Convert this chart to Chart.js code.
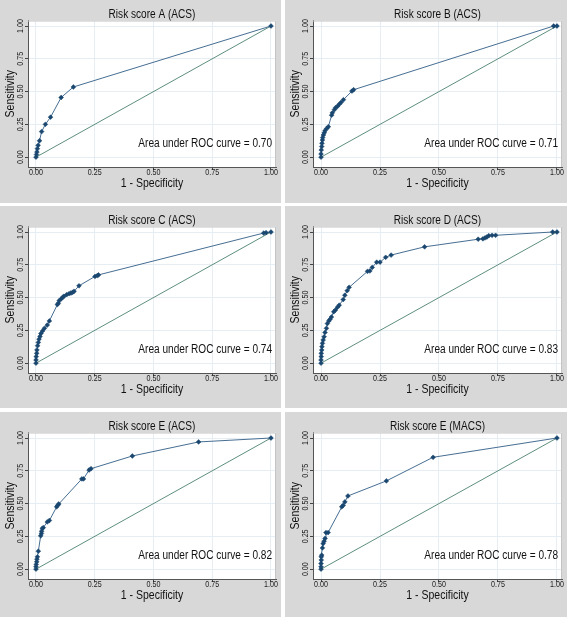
<!DOCTYPE html>
<html>
<head>
<meta charset="utf-8">
<script src="https://cdn.jsdelivr.net/npm/chart.js@4/dist/chart.umd.min.js"></script>
<style>
  html, body { margin: 0; padding: 0; background: #ffffff; }
  #wrap { position: relative; width: 567px; height: 620px; overflow: hidden; }
  .panel { position: absolute; background: #d8d8d8; }
  canvas { display: block; }
</style>
</head>
<body>
<div id="wrap"></div>
<script>
// ---------------- data ----------------
const TICK_VALUES = [0, 0.25, 0.5, 0.75, 1];
const TITLES = ["Risk score A (ACS)", "Risk score B (ACS)", "Risk score C (ACS)",
                "Risk score D (ACS)", "Risk score E (ACS)", "Risk score E (MACS)"];
const AUC = [0.70, 0.71, 0.74, 0.83, 0.82, 0.78];
const X_TITLE = "1 - Specificity";
const Y_TITLE = "Sensitivity";
const AUC_LABEL = "Area under ROC curve = ";

const A_FPR = [0,0.002,0.004,0.006,0.009,0.015,0.024,0.04,0.062,0.107,0.159,1];
const A_TPR = [0,0.02,0.04,0.065,0.09,0.125,0.195,0.25,0.305,0.455,0.535,1];

const B_FPR = [0,0,0.001,0.003,0.004,0.006,0.007,0.01,0.014,0.017,0.024,0.031,0.045,0.048,0.057,0.062,0.07,0.077,0.085,0.095,0.131,0.138,0.986,1];
const B_TPR = [0,0.025,0.055,0.081,0.106,0.131,0.149,0.169,0.186,0.202,0.219,0.232,0.32,0.338,0.363,0.378,0.388,0.403,0.418,0.438,0.504,0.514,1,1];

const C_FPR = [0,0,0.001,0.003,0.004,0.007,0.01,0.013,0.017,0.021,0.028,0.036,0.048,0.057,0.091,0.095,0.099,0.107,0.114,0.119,0.131,0.141,0.149,0.156,0.162,0.183,0.251,0.261,0.266,0.969,0.979,1];
const C_TPR = [0,0.025,0.05,0.075,0.1,0.133,0.158,0.183,0.204,0.226,0.246,0.266,0.291,0.322,0.447,0.457,0.477,0.49,0.503,0.51,0.523,0.53,0.535,0.54,0.548,0.59,0.661,0.668,0.673,0.992,0.995,1];

const D_FPR = [0,0,0.001,0.001,0.003,0.004,0.006,0.009,0.013,0.017,0.023,0.027,0.033,0.038,0.044,0.054,0.061,0.07,0.077,0.094,0.101,0.111,0.119,0.197,0.207,0.217,0.236,0.25,0.274,0.297,0.439,0.666,0.686,0.695,0.703,0.711,0.725,0.74,0.982,1];
const D_TPR = [0,0.025,0.05,0.075,0.1,0.126,0.151,0.176,0.201,0.234,0.266,0.302,0.322,0.334,0.352,0.392,0.405,0.427,0.442,0.485,0.518,0.553,0.578,0.7,0.703,0.73,0.77,0.77,0.807,0.824,0.887,0.945,0.948,0.955,0.962,0.972,0.975,0.975,1,1];

const E_FPR = [0,0,0.001,0.003,0.004,0.006,0.01,0.02,0.023,0.024,0.027,0.031,0.048,0.057,0.088,0.092,0.097,0.195,0.202,0.226,0.234,0.41,0.692,1];
const E_TPR = [0,0.018,0.036,0.056,0.076,0.094,0.137,0.254,0.272,0.289,0.31,0.317,0.36,0.371,0.475,0.487,0.497,0.688,0.688,0.756,0.766,0.863,0.97,1];

const EM_FPR = [0,0,0,0.001,0.001,0.003,0.006,0.009,0.013,0.017,0.021,0.03,0.088,0.094,0.101,0.114,0.277,0.475,1];
const EM_TPR = [0,0.018,0.043,0.069,0.094,0.107,0.162,0.195,0.213,0.234,0.279,0.279,0.475,0.487,0.513,0.558,0.673,0.853,1];

const DIAG_X = [0, 1];
const DIAG_Y = [0, 1];

const SERIES = [[A_FPR, A_TPR], [B_FPR, B_TPR], [C_FPR, C_TPR],
                [D_FPR, D_TPR], [E_FPR, E_TPR], [EM_FPR, EM_TPR]];

// ---------------- layout ----------------
const PANELS = [
  {left: 0,   top: 0,   w: 281, h: 203},
  {left: 285, top: 0,   w: 282, h: 203},
  {left: 0,   top: 206, w: 281, h: 202},
  {left: 285, top: 206, w: 282, h: 202},
  {left: 0,   top: 412, w: 281, h: 205},
  {left: 285, top: 412, w: 282, h: 205}
];

const FONT = "'Liberation Sans', Arial, sans-serif";
const NARROW = 0.84;  // horizontal squeeze to mimic a narrow typeface
const NAVY = '#1a476f';
const LINE = '#466e93';
const DIAG = '#5e8f7e';

const narrowText = {
  id: 'narrowText',
  beforeInit(chart) {
    const ctx = chart.ctx;
    const orig = ctx.fillText;
    ctx.fillText = function (t, x, y, mw) {
      this.save();
      this.translate(x, y);
      this.scale(NARROW, 1);
      if (mw !== undefined) orig.call(this, t, 0, 0, mw / NARROW);
      else orig.call(this, t, 0, 0);
      this.restore();
    };
  }
};

const boxPlugin = {
  id: 'boxAndText',
  beforeDraw(chart) {
    const {ctx, chartArea: a} = chart;
    ctx.save();
    ctx.fillStyle = '#ffffff';
    ctx.fillRect(a.left, a.top, a.right - a.left, a.bottom - a.top);
    ctx.restore();
  },
  beforeDatasetsDraw(chart) {
    const {ctx, chartArea: a} = chart;
    ctx.save();
    ctx.strokeStyle = '#c4c4c4';
    ctx.lineWidth = 1;
    ctx.beginPath();
    ctx.moveTo(a.left, a.top + 0.5);
    ctx.lineTo(a.right - 0.5, a.top + 0.5);
    ctx.lineTo(a.right - 0.5, a.bottom);
    ctx.stroke();
    ctx.restore();
  },
  afterDatasetsDraw(chart) {
    const {ctx, chartArea: a} = chart;
    const auc = chart.options.plugins.boxAndText.auc;
    ctx.save();
    ctx.fillStyle = '#111';
    ctx.font = '12px ' + FONT;
    ctx.textAlign = 'right';
    ctx.textBaseline = 'middle';
    ctx.fillText(AUC_LABEL + auc.toFixed(2), a.right - 4, a.bottom - 23);
    ctx.restore();
  }
};

const wrap = document.getElementById('wrap');
PANELS.forEach((p, i) => {
  const div = document.createElement('div');
  div.className = 'panel';
  div.style.left = p.left + 'px';
  div.style.top = p.top + 'px';
  div.style.width = p.w + 'px';
  div.style.height = p.h + 'px';
  const cv = document.createElement('canvas');
  cv.width = p.w; cv.height = p.h;
  cv.style.width = p.w + 'px'; cv.style.height = p.h + 'px';
  div.appendChild(cv);
  wrap.appendChild(div);

  const [fx, ty] = SERIES[i];
  const rocPts = fx.map((v, k) => ({x: v, y: ty[k]}));
  const diagPts = DIAG_X.map((v, k) => ({x: v, y: DIAG_Y[k]}));
  const plotBottom = 167;

  new Chart(cv, {
    type: 'scatter',
    data: {
      datasets: [
        {data: diagPts, showLine: true, borderColor: DIAG, borderWidth: 1, pointRadius: 0, order: 2},
        {data: rocPts, showLine: true, borderColor: LINE, borderWidth: 1,
         pointStyle: 'rectRot', pointRadius: 2.4, pointBackgroundColor: NAVY,
         pointBorderColor: NAVY, pointBorderWidth: 0.5, order: 1}
      ]
    },
    options: {
      responsive: false,
      animation: false,
      devicePixelRatio: 1,
      layout: {padding: {left: 0, right: 5, top: 0, bottom: 0}},
      plugins: {
        legend: {display: false},
        tooltip: {enabled: false},
        title: {
          display: true, text: TITLES[i], fullSize: false, color: '#111',
          font: {family: FONT, size: 12, weight: 'normal', lineHeight: 1},
          padding: {top: 8.5, bottom: 0}
        },
        boxAndText: {auc: AUC[i]}
      },
      scales: {
        x: {
          type: 'linear', min: -0.034, max: 1.0213,
          afterBuildTicks: s => { s.ticks = TICK_VALUES.map(v => ({value: v})); },
          afterFit: s => { s.height = p.h - plotBottom; },
          ticks: {color: '#222', font: {family: FONT, size: 8.5, lineHeight: 1}, padding: -2,
                  callback: v => Number(v).toFixed(2), maxRotation: 0, autoSkip: false},
          grid: {color: '#e7eef3', lineWidth: 1, tickLength: 3, tickColor: '#444', drawTicks: true},
          border: {display: true, color: '#555', width: 1},
          title: {display: true, text: X_TITLE, color: '#111',
                  font: {family: FONT, size: 12.5, lineHeight: 1.2},
                  padding: {top: 0, bottom: p.h - 184 - 7.5}}
        },
        y: {
          type: 'linear', min: -0.075, max: 1.042,
          afterBuildTicks: s => { s.ticks = TICK_VALUES.map(v => ({value: v})); },
          afterFit: s => { s.width = 28; },
          ticks: {color: '#222', font: {family: FONT, size: 8.5, lineHeight: 1}, padding: -3.5,
                  minRotation: 90, maxRotation: 90, crossAlign: 'center',
                  callback: v => Number(v).toFixed(2), autoSkip: false},
          grid: {color: '#e7eef3', lineWidth: 1, tickLength: 3, tickColor: '#444', drawTicks: true},
          border: {display: true, color: '#555', width: 1},
          title: {display: true, text: Y_TITLE, color: '#111',
                  font: {family: FONT, size: 12.5, lineHeight: 1.2},
                  padding: {top: 3.5, bottom: 0}}
        }
      }
    },
    plugins: [narrowText, boxPlugin]
  });
});
</script>
</body>
</html>
